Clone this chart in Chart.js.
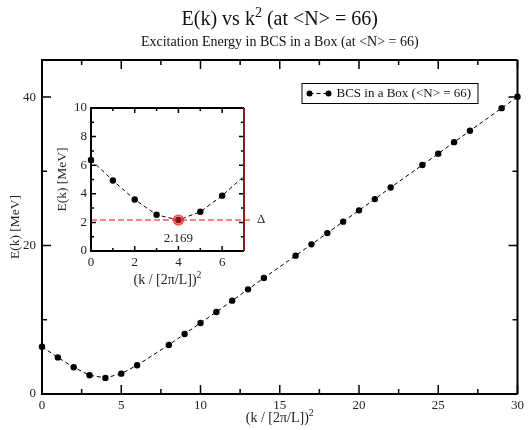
<!DOCTYPE html>
<html>
<head>
<meta charset="utf-8">
<script src="https://cdn.jsdelivr.net/npm/chart.js@4"></script>
<style>
html, body { margin: 0; padding: 0; background: #fff; }
#wrap { position: relative; width: 528px; height: 430px; }
#mainChart { position: absolute; left: 0; top: 0; }
#insetChart { position: absolute; left: 50px; top: 95px; }
</style>
</head>
<body>
<div id="wrap">
  <canvas id="mainChart" width="528" height="430"></canvas>
  <canvas id="insetChart" width="225" height="200"></canvas>
</div>
<script>
// data
const kSquared = [0, 1, 2, 3, 4, 5, 6, 8, 9, 10, 11, 12, 13, 14, 16, 17, 18, 19, 20, 21, 22, 24, 25, 26, 27, 29, 30];
const energy = [6.37, 4.93, 3.6, 2.53, 2.169, 2.74, 3.87, 6.61, 8.09, 9.57, 11.05, 12.58, 14.1, 15.63, 18.64, 20.16, 21.68, 23.22, 24.74, 26.26, 27.83, 30.86, 32.38, 33.93, 35.46, 38.51, 40.04];
const gapK2 = [4];
const gapE = [2.169];

const mainXTicks = [0, 5, 10, 15, 20, 25, 30];
const mainXMinor = [2.5, 7.5, 12.5, 17.5, 22.5, 27.5];
const mainYTicks = [0, 20, 40];
const mainYMinor = [10, 30];
const insetXTicks = [0, 2, 4, 6];
const insetXMinor = [1, 3, 5, 7];
const insetYTicks = [0, 2, 4, 6, 8, 10];
const insetYMinor = [1, 3, 5, 7, 9];

const titleText = [['E(k) vs k', false], ['2', true], [' (at <N> = 66)', false]];
const subtitleText = 'Excitation Energy in BCS in a Box (at <N> = 66)';
const xTitle = [['(k / [2\u03c0/L])', false], ['2', true]];
const yTitle = 'E(k) [MeV]';
const legendText = 'BCS in a Box (<N> = 66)';
const gapSymbol = '\u0394';

const FONT = "'Liberation Serif', 'Times New Roman', serif";
Chart.defaults.font.family = FONT;
Chart.defaults.color = '#222';

function drawRich(ctx, parts, x, y, size) {
    const widths = parts.map(([t, sup]) => {
        ctx.font = (sup ? size * 0.7 : size) + 'px ' + FONT;
        return ctx.measureText(t).width;
    });
    let cx = x - widths.reduce((a, b) => a + b, 0) / 2;
    ctx.textAlign = 'left';
    ctx.textBaseline = 'alphabetic';
    parts.forEach(([t, sup], i) => {
        ctx.font = (sup ? size * 0.7 : size) + 'px ' + FONT;
        ctx.fillText(t, cx, sup ? y - size * 0.42 : y);
        cx += widths[i];
    });
}

// box + inward ticks on all four sides
function framePlugin(o) {
    return {
        id: 'frame',
        afterDatasetsDraw(chart) {
            const { ctx, chartArea: a, scales: { x, y } } = chart;
            ctx.save();
            ctx.strokeStyle = '#000';
            ctx.lineWidth = o.lw;
            const tick = (vals, len) => {
                vals.forEach(v => {
                    const px = x.getPixelForValue(v);
                    ctx.beginPath();
                    ctx.moveTo(px, a.bottom); ctx.lineTo(px, a.bottom - len);
                    ctx.moveTo(px, a.top); ctx.lineTo(px, a.top + len);
                    ctx.stroke();
                });
            };
            const tickY = (vals, len) => {
                vals.forEach(v => {
                    const py = y.getPixelForValue(v);
                    ctx.beginPath();
                    ctx.moveTo(a.left, py); ctx.lineTo(a.left + len, py);
                    ctx.moveTo(a.right, py); ctx.lineTo(a.right - len, py);
                    ctx.stroke();
                });
            };
            tick(o.xMajor, o.major); tick(o.xMinor, o.minor);
            tickY(o.yMajor, o.major); tickY(o.yMinor, o.minor);
            ctx.lineWidth = o.lw + 0.5;
            ctx.beginPath();
            ctx.moveTo(a.right, a.top); ctx.lineTo(a.left, a.top);
            ctx.lineTo(a.left, a.bottom); ctx.lineTo(a.right, a.bottom);
            ctx.stroke();
            ctx.strokeStyle = o.rightColor;
            ctx.beginPath();
            ctx.moveTo(a.right, a.bottom); ctx.lineTo(a.right, a.top);
            ctx.stroke();

            // axis titles
            ctx.fillStyle = '#222';
            drawRich(ctx, xTitle, (a.left + a.right) / 2, o.xTitleY, 14);
            ctx.translate(o.yTitleX, (a.top + a.bottom) / 2);
            ctx.rotate(-Math.PI / 2);
            ctx.font = '13.5px ' + FONT;
            ctx.textAlign = 'center';
            ctx.textBaseline = 'middle';
            ctx.fillText(yTitle, 0, 0);
            ctx.restore();
        }
    };
}

const titleLegendPlugin = {
    id: 'titleLegend',
    afterDraw(chart) {
        const { ctx, chartArea: a } = chart;
        const cx = (a.left + a.right) / 2;
        ctx.save();
        ctx.fillStyle = '#111';
        drawRich(ctx, titleText, cx, 25, 20);
        ctx.font = '14px ' + FONT;
        ctx.textAlign = 'center';
        ctx.fillText(subtitleText, cx, 46);

        // legend box
        const bx = a.right - 216, by = a.top + 23, bw = 176, bh = 20;
        ctx.fillStyle = '#fff';
        ctx.fillRect(bx, by, bw, bh);
        ctx.strokeStyle = '#000';
        ctx.lineWidth = 1;
        ctx.strokeRect(bx + 0.5, by + 0.5, bw, bh);
        const my = by + bh / 2 + 0.5;
        ctx.setLineDash([4, 3]);
        ctx.beginPath(); ctx.moveTo(bx + 8, my); ctx.lineTo(bx + 27, my); ctx.stroke();
        ctx.setLineDash([]);
        ctx.fillStyle = '#000';
        [bx + 8, bx + 27].forEach(px => { ctx.beginPath(); ctx.arc(px, my, 3, 0, Math.PI * 2); ctx.fill(); });
        ctx.fillStyle = '#111';
        ctx.font = '13px ' + FONT;
        ctx.textAlign = 'left';
        ctx.textBaseline = 'middle';
        ctx.fillText(legendText, bx + 35, my + 0.5);
        ctx.restore();
    }
};

const gapPlugin = {
    id: 'gapLine',
    beforeDatasetsDraw(chart) {
        const { ctx, chartArea: a, scales: { x, y } } = chart;
        const py = y.getPixelForValue(gapE[0]);
        ctx.save();
        ctx.strokeStyle = 'rgba(255,70,70,0.9)';
        ctx.lineWidth = 1.6;
        ctx.setLineDash([6, 3]);
        ctx.beginPath(); ctx.moveTo(a.left, py); ctx.lineTo(a.right + 9, py); ctx.stroke();
        ctx.setLineDash([]);
        ctx.fillStyle = '#222';
        ctx.font = '13px ' + FONT;
        ctx.textAlign = 'left';
        ctx.textBaseline = 'middle';
        ctx.fillText(gapSymbol, a.right + 13, py);
        ctx.textAlign = 'center';
        ctx.fillText(gapE[0].toFixed(3), x.getPixelForValue(gapK2[0]), py + 19);
        ctx.restore();
    }
};

const points = kSquared.map((k, i) => ({ x: k, y: energy[i] }));
const lineStyle = {
    showLine: true, borderColor: '#000', borderWidth: 1, borderDash: [4, 3],
    pointRadius: 3.2, pointBackgroundColor: '#000', pointBorderWidth: 0
};

function axis(min, max, ticks, pad, fit) {
    return {
        type: 'linear', min, max,
        grid: { display: false, drawTicks: false },
        border: { display: false },
        ticks: { padding: pad, font: { size: 13 }, color: '#222' },
        afterBuildTicks: s => { s.ticks = ticks.map(v => ({ value: v })); },
        afterFit: fit
    };
}

new Chart(document.getElementById('mainChart'), {
    type: 'scatter',
    data: { datasets: [Object.assign({ data: points, clip: false }, lineStyle)] },
    options: {
        responsive: false, animation: false,
        layout: { padding: { left: 0, top: 60, right: 7, bottom: 0 } },
        plugins: { legend: { display: false }, tooltip: { enabled: false } },
        scales: {
            x: axis(0, 30, mainXTicks, 4, s => { s.height = 36; }),
            y: axis(0, 45, mainYTicks, 6, s => { s.width = 42; })
        }
    },
    plugins: [framePlugin({ xMajor: mainXTicks, xMinor: mainXMinor, yMajor: mainYTicks, yMinor: mainYMinor,
        major: 9, minor: 5, lw: 1.5, rightColor: '#000', xTitleY: 422, yTitleX: 15 }), titleLegendPlugin]
});

new Chart(document.getElementById('insetChart'), {
    type: 'scatter',
    data: {
        datasets: [
            { data: gapK2.map((k, i) => ({ x: k, y: gapE[i] })), pointRadius: 5, pointBackgroundColor: 'rgba(255,40,40,0.55)',
              pointBorderColor: 'rgba(255,40,40,0.9)', pointBorderWidth: 1.2, order: 0 },
            Object.assign({ data: points, clip: { left: 5, top: 0, right: 0, bottom: 0 }, order: 1 }, lineStyle)
        ]
    },
    options: {
        responsive: false, animation: false,
        layout: { padding: { left: 0, top: 13, right: 31, bottom: 0 } },
        plugins: { legend: { display: false }, tooltip: { enabled: false } },
        scales: {
            x: axis(0, 7, insetXTicks, 4, s => { s.height = 44; }),
            y: axis(0, 10, insetYTicks, 4, s => { s.width = 41; })
        }
    },
    plugins: [gapPlugin, framePlugin({ xMajor: insetXTicks, xMinor: insetXMinor, yMajor: insetYTicks, yMinor: insetYMinor,
        major: 5, minor: 3, lw: 1.5, rightColor: '#8a1c1c', xTitleY: 189, yTitleX: 12 })]
});
</script>
</body>
</html>
